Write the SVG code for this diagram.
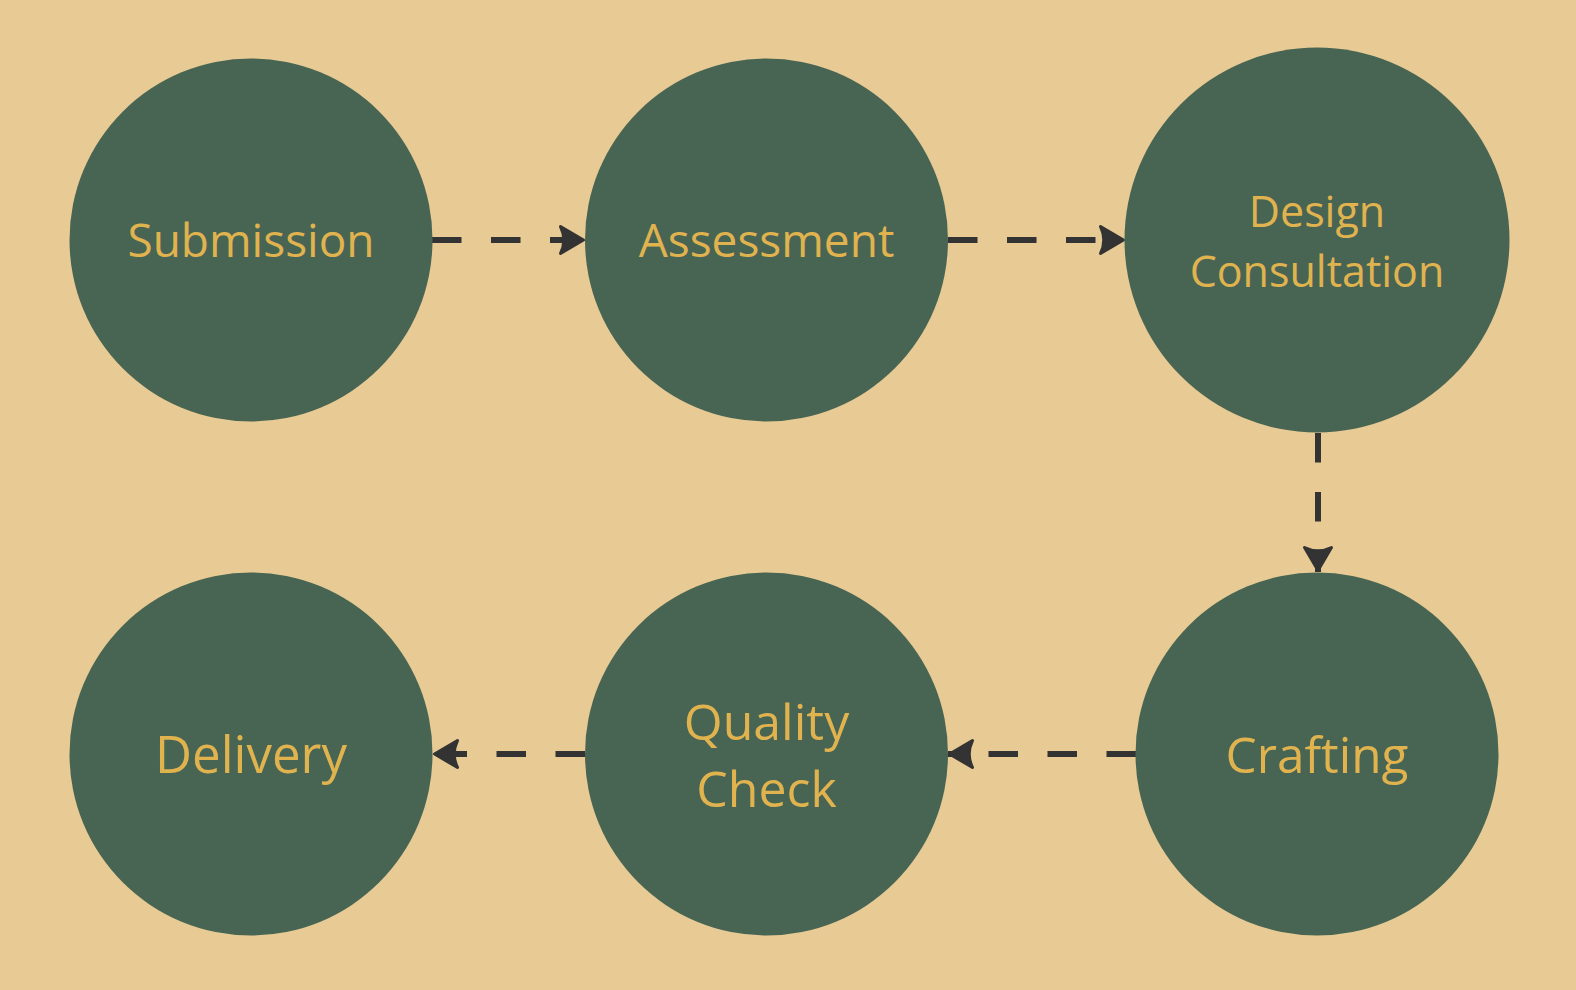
<svg xmlns="http://www.w3.org/2000/svg" width="1576" height="990" viewBox="0 0 1576 990">
  <style>
    .node { fill: #486554; }
    .label { fill: #E0B34F; font-family: "Open Sans", "Noto Sans", sans-serif; text-anchor: middle; }
    .edge { fill: none; stroke: #333333; stroke-width: 6; stroke-dasharray: 29.5 29.5; }
    .head { fill: #333333; stroke: #333333; stroke-width: 3; stroke-linejoin: round; }
  </style>
  <defs>
    <marker id="arrow" markerUnits="userSpaceOnUse" markerWidth="40" markerHeight="40" viewBox="-30 -20 40 40" refX="0" refY="0" orient="auto" overflow="visible">
      <path class="head" d="M-1.5,0 L-24.5,-13.5 Q-18,0 -24.5,13.5 Z"/>
    </marker>
  </defs>
  <rect width="1576" height="990" fill="#E8CB94"/>

  <g id="connectors">
    <path class="edge" d="M432,240 L585,240" marker-end="url(#arrow)"/>
    <path class="edge" d="M948,240 L1125,240" marker-end="url(#arrow)"/>
    <path class="edge" d="M1318,433 L1318,572" marker-end="url(#arrow)"/>
    <path class="edge" d="M1136,754 L948,754" marker-end="url(#arrow)"/>
    <path class="edge" d="M585,754 L433,754" marker-end="url(#arrow)"/>
  </g>

  <g id="submission">
    <circle class="node" cx="251" cy="240" r="181.5"/>
    <text class="label" x="251" y="257" font-size="46">Submission</text>
  </g>
  <g id="assessment">
    <circle class="node" cx="766.5" cy="240" r="181.5"/>
    <text class="label" x="766.5" y="257" font-size="46">Assessment</text>
  </g>
  <g id="design-consultation">
    <circle class="node" cx="1317" cy="240" r="192.5"/>
    <text class="label" x="1317" y="227" font-size="43">Design</text>
    <text class="label" x="1317" y="287" font-size="43">Consultation</text>
  </g>
  <g id="crafting">
    <circle class="node" cx="1317" cy="754" r="181.5"/>
    <text class="label" x="1317" y="772.5" font-size="49.5">Crafting</text>
  </g>
  <g id="quality-check">
    <circle class="node" cx="766.5" cy="754" r="181.5"/>
    <text class="label" x="766.5" y="740" font-size="50">Quality</text>
    <text class="label" x="766.5" y="806.5" font-size="50">Check</text>
  </g>
  <g id="delivery">
    <circle class="node" cx="251" cy="754" r="181.5"/>
    <text class="label" x="251" y="773" font-size="51">Delivery</text>
  </g>
</svg>
